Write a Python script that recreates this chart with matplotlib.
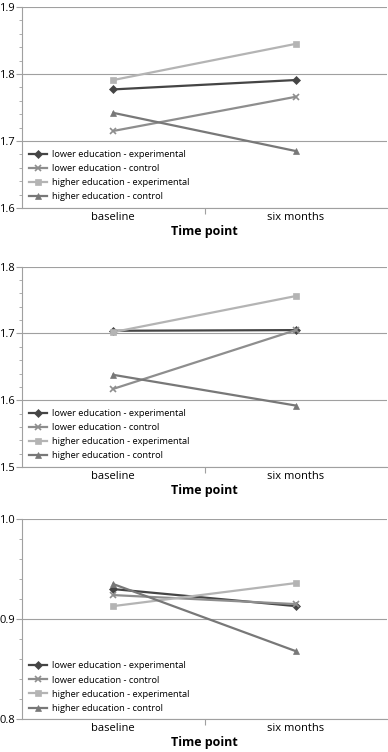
import matplotlib
matplotlib.use("Agg")
import matplotlib.pyplot as plt
from matplotlib.ticker import MultipleLocator

# Datos
time_points = ["baseline", "six months"]
series_names = ["lower education - experimental", "lower education - control",
                "higher education - experimental", "higher education - control"]

panel1 = [[1.777, 1.791], [1.715, 1.766], [1.791, 1.845], [1.742, 1.685]]
panel2 = [[1.704, 1.705], [1.617, 1.705], [1.702, 1.756], [1.638, 1.592]]
panel3 = [[0.930, 0.913], [0.924, 0.915], [0.913, 0.936], [0.935, 0.868]]

ylims = [(1.6, 1.9), (1.5, 1.8), (0.8, 1.0)]

colors = ["#454545", "#8e8e8e", "#b4b4b4", "#787878"]
markers = ["D", "x", "s", "^"]
msizes = [4, 5, 5, 5]

plt.rcParams["font.family"] = ["Open Sans", "DejaVu Sans"]

fig = plt.figure(figsize=(3.88, 7.52), dpi=100)
positions = [
    [0.0567, 0.7234, 0.941, 0.2673],
    [0.0567, 0.3790, 0.941, 0.2664],
    [0.0567, 0.0435, 0.941, 0.2664],
]

for pos, data, (lo, hi) in zip(positions, [panel1, panel2, panel3], ylims):
    ax = fig.add_axes(pos)
    for vals, name, c, m, ms in zip(data, series_names, colors, markers, msizes):
        ax.plot([0.5, 1.5], vals, color=c, marker=m, markersize=ms, lw=1.6,
                markeredgewidth=1.2 if m == "x" else 0.5, label=name)
    ax.set_xlim(0, 2)
    ax.set_ylim(lo, hi)
    ax.yaxis.set_major_locator(MultipleLocator(0.1))
    ax.yaxis.set_minor_locator(MultipleLocator(0.02))
    ax.yaxis.set_major_formatter(plt.FormatStrFormatter("%.1f"))
    ax.grid(axis="y", which="major", color="#a0a0a0", lw=0.8)
    ax.set_axisbelow(True)
    ax.set_xticks([1], minor=False)
    ax.set_xticklabels([""])
    ax.set_xticks([0.5, 1.5], minor=True)
    ax.set_xticklabels(time_points, minor=True, fontsize=8)
    ax.tick_params(axis="x", which="minor", length=0, pad=3)
    ax.tick_params(axis="x", which="major", length=4, color="#a0a0a0", direction="out")
    ax.tick_params(axis="y", which="major", length=4, color="#a0a0a0", labelsize=8, pad=1)
    ax.tick_params(axis="y", which="minor", length=2, color="#a0a0a0")
    for s in ["top", "right"]:
        ax.spines[s].set_visible(False)
    for s in ["left", "bottom"]:
        ax.spines[s].set_color("#a0a0a0")
    ax.set_xlabel("Time point", fontsize=9, fontweight="bold", labelpad=1)
    ax.legend(loc="lower left", bbox_to_anchor=(0.0, 0.0), frameon=False,
              fontsize=6.7, handlelength=2.0, labelspacing=0.55, handletextpad=0.5,
              borderaxespad=0.3)

fig.savefig("out.png", dpi=100)
